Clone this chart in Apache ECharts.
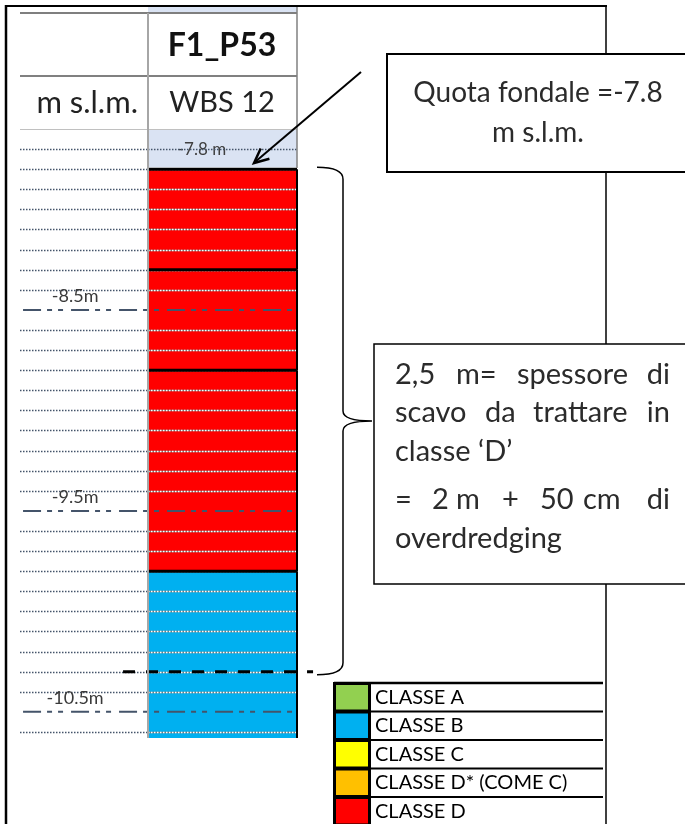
<!DOCTYPE html>
<html><head><meta charset="utf-8">
<script src="https://cdn.jsdelivr.net/npm/echarts@6/dist/echarts.min.js"></script>
<style>html,body{margin:0;padding:0;background:#fff}#c{width:685px;height:824px}</style>
</head><body><div id="c"></div>
<script>
// ---------- data ----------
const classNames = ['CLASSE A', 'CLASSE B', 'CLASSE C', 'CLASSE D* (COME C)', 'CLASSE D'];
const layerTop = [-7.8, -8.3, -8.8, -9.8];
const layerBottom = [-8.3, -8.8, -9.8, -10.63];
const layerClass = ['CLASSE D', 'CLASSE D', 'CLASSE D', 'CLASSE B'];
const waterTop = -7.6;
const seabed = -7.8;
const seabedLabel = '-7.8 m';
const dredgeBottom = -10.3;
const dottedLevels = [-7.7, -7.8, -7.9, -8.0, -8.1, -8.2, -8.3, -8.4, -8.6, -8.7, -8.8, -8.9, -9.0, -9.1, -9.2, -9.3, -9.4, -9.6, -9.7, -9.8, -9.9, -10.0, -10.1, -10.2, -10.3, -10.4, -10.6];
const dashLevels = [-8.5, -9.5, -10.5];
const dashLabels = ['-8.5m', '-9.5m', '-10.5m'];
const stationName = 'F1_P53';
const unitLabel = 'm s.l.m.';
const wbsLabel = 'WBS 12';
const note1Lines = ['Quota fondale =-7.8', 'm s.l.m.'];

// ---------- styles ----------
const classColors = {'CLASSE A': '#92d050', 'CLASSE B': '#00b0f0', 'CLASSE C': '#ffff00', 'CLASSE D* (COME C)': '#ffc000', 'CLASSE D': '#ff0000'};
const FONT = 'Lato';
const COL_LEFT = 0.462;
const NAVY = '#44546a';

const chart = echarts.init(document.getElementById('c'), null, {renderer: 'canvas'});

function layerSeries(name) {
  const data = [];
  layerTop.forEach((t, i) => { if (layerClass[i] === name) data.push([layerTop[i], layerBottom[i]]); });
  return {
    type: 'custom', name: name, z: 2, itemStyle: {color: classColors[name]},
    data: data,
    renderItem: function (params, api) {
      const p0 = api.coord([COL_LEFT, api.value(0)]);
      const p1 = api.coord([1, api.value(1)]);
      return {type: 'rect', shape: {x: p0[0], y: p0[1], width: p1[0] - p0[0], height: p1[1] - p0[1]},
        style: {fill: api.visual('color')}};
    }
  };
}

const series = classNames.map(layerSeries);

// water / seabed cell
series.push({
  type: 'custom', name: 'water', z: 2, data: [[waterTop, seabed]],
  renderItem: function (params, api) {
    const p0 = api.coord([COL_LEFT, api.value(0)]);
    const p1 = api.coord([1, api.value(1)]);
    const tx = api.coord([0.657, api.value(1)]);
    return {type: 'group', children: [
      {type: 'rect', shape: {x: p0[0], y: p0[1], width: p1[0] - p0[0], height: p1[1] - p0[1] - 2}, style: {fill: '#dae3f3'}},
      {type: 'text', z2: 5, style: {text: seabedLabel, x: tx[0], y: tx[1] - 20, align: 'center', verticalAlign: 'middle', fill: '#404040', font: '17px ' + FONT}}
    ]};
  }
});

// dotted grid lines
series.push({
  type: 'custom', name: 'grid01', z: 3, data: dottedLevels.map(v => [v]),
  renderItem: function (params, api) {
    const v = api.value(0);
    const a = api.coord([0, v]), b = api.coord([COL_LEFT, v]), c = api.coord([1, v]);
    const y = Math.round(a[1]) + 0.5;
    const kids = [{type: 'line', shape: {x1: a[0], y1: y, x2: b[0], y2: y}, style: {stroke: NAVY, lineWidth: 1.5, lineDash: [1.5, 1.5]}}];
    if (v <= seabed) {
      kids.push({type: 'line', shape: {x1: b[0], y1: y, x2: c[0], y2: y}, style: {stroke: '#7a7a7a', lineWidth: 1.5}});
      kids.push({type: 'line', shape: {x1: b[0], y1: y, x2: c[0], y2: y}, style: {stroke: '#ffffff', lineWidth: 1.5, lineDash: [1.5, 1.5]}});
    } else {
      kids.push({type: 'line', shape: {x1: b[0], y1: y, x2: c[0], y2: y}, style: {stroke: NAVY, lineWidth: 1.5, lineDash: [1.5, 1.5]}});
    }
    return {type: 'group', children: kids};
  }
});

// dash-dot half-metre lines with labels
series.push({
  type: 'custom', name: 'grid05', z: 4, data: dashLevels.map(v => [v]),
  renderItem: function (params, api) {
    const v = api.value(0);
    const a = api.coord([0.011, v]), c = api.coord([1, v]), t = api.coord([0.199, v]);
    return {type: 'group', children: [
      {type: 'line', shape: {x1: a[0], y1: a[1], x2: c[0], y2: c[1]}, style: {stroke: NAVY, lineWidth: 2, lineDash: [18, 6, 5, 6, 5, 8]}},
      {type: 'text', style: {text: dashLabels[params.dataIndex], x: t[0], y: t[1] - 14, align: 'center', verticalAlign: 'middle', fill: '#3a3a3a', font: '18px ' + FONT}}
    ]};
  }
});

// layer borders (black)
series.push({
  type: 'custom', name: 'borders', z: 5, data: layerTop.map((t, i) => [layerTop[i], layerBottom[i]]),
  renderItem: function (params, api) {
    const p0 = api.coord([COL_LEFT, api.value(0)]);
    const p1 = api.coord([1, api.value(1)]);
    return {type: 'group', children: [
      {type: 'line', shape: {x1: p0[0], y1: p0[1], x2: p1[0], y2: p0[1]}, style: {stroke: '#000', lineWidth: 3}},
      {type: 'line', shape: {x1: p1[0], y1: p0[1], x2: p1[0], y2: p1[1]}, style: {stroke: '#000', lineWidth: 2}}
    ]};
  }
});

// dredging depth: dashed line + brace
series.push({
  type: 'custom', name: 'dredge', z: 6, clip: false, data: [[seabed, dredgeBottom]],
  renderItem: function (params, api) {
    const top = api.coord([1, api.value(0)]);
    const bot = api.coord([1, api.value(1)]);
    const d0 = api.coord([0.372, api.value(1)]);
    const d1 = api.coord([1.058, api.value(1)]);
    const yTop = top[1] - 2, yBot = bot[1] + 3, yMid = (yTop + yBot) / 2;
    const x0 = 317, x1 = 343, xt = 372;
    const p = `M${x0},${yTop} Q${x1},${yTop} ${x1},${yTop + 12} L${x1},${yMid - 10} Q${x1},${yMid} ${xt},${yMid} Q${x1},${yMid} ${x1},${yMid + 10} L${x1},${yBot - 12} Q${x1},${yBot} ${x0},${yBot}`;
    return {type: 'group', children: [
      {type: 'line', shape: {x1: d0[0], y1: d0[1], x2: d1[0], y2: d1[1]}, style: {stroke: '#000', lineWidth: 3, lineDash: [12, 11]}},
      {type: 'path', shape: {pathData: p}, style: {stroke: '#000', lineWidth: 1.5, fill: null}}
    ]};
  }
});

const option = {
  animation: false,
  backgroundColor: '#fff',
  grid: {left: 20, right: 388, top: 129, bottom: 86},
  xAxis: {type: 'value', min: 0, max: 1, show: false},
  yAxis: {type: 'value', min: -10.63, max: -7.6, show: false},
  legend: {
    data: classNames, orient: 'vertical', left: 334, top: 683, height: 400, padding: 0,
    itemWidth: 35, itemHeight: 26.5, itemGap: 0, icon: 'rect', selectedMode: false,
    itemStyle: {borderColor: '#000', borderWidth: 2},
    textStyle: {fontFamily: FONT, fontSize: 20, lineHeight: 24, color: '#000'}
  },
  series: series
};
chart.setOption(option);

// ---------- annotations ----------
function line(x1, y1, x2, y2, stroke, w, extra) {
  return {type: 'line', z: 100, shape: {x1, y1, x2, y2}, style: Object.assign({stroke: stroke, lineWidth: w}, extra || {})};
}
function txt(text, x, y, font, align, fill) {
  return {type: 'text', z: 110, style: {text: text, x: x, y: y, font: font, align: align || 'left', verticalAlign: 'middle', fill: fill || '#2b2b2b'}};
}

const g = [];
// frame
g.push(line(6, 5, 6, 824, '#000', 2.5));
g.push(line(5, 6, 607, 6, '#000', 2));
g.push(line(606, 6, 606, 824, '#000', 1.5));
// header table
g.push({type: 'rect', z: 99, shape: {x: 148, y: 7, width: 149, height: 6}, style: {fill: '#dae3f3'}});
g.push(line(20, 13, 297, 13, '#7f7f7f', 2));
g.push(line(20, 76, 297, 76, '#808080', 2));
g.push(line(20, 129.5, 297, 129.5, '#c0c0c0', 1));
g.push(line(148, 13, 148, 738, '#a6a6a6', 2));
g.push(line(297, 7, 297, 168, '#808080', 1.5));
g.push(txt(stationName, 222, 46, 'bold 32px ' + FONT, 'center', '#111'));
g.push(txt(wbsLabel, 222, 103, '29px ' + FONT, 'center', '#222'));
g.push(txt(unitLabel, 138, 103, '31px ' + FONT, 'right', '#222'));
// note box 1
g.push({type: 'rect', z: 101, shape: {x: 387, y: 54, width: 320, height: 118}, style: {fill: '#fff', stroke: '#000', lineWidth: 2}});
g.push(txt(note1Lines[0], 538, 93, '28px ' + FONT, 'center'));
g.push(txt(note1Lines[1], 538, 133, '28px ' + FONT, 'center'));
// arrow
g.push(line(361, 72, 255, 162, '#000', 2));
g.push({type: 'polyline', z: 100, shape: {points: [[269.4, 158.8], [254, 163], [260.7, 148.5]]}, style: {stroke: '#000', lineWidth: 2.5, fill: null}});
// note box 2
g.push({type: 'rect', z: 101, shape: {x: 374, y: 344, width: 320, height: 240}, style: {fill: '#fff', stroke: '#000', lineWidth: 1.5}});
const F2 = '29px ' + FONT;
const words = [
  [['2,5', 395], ['m=', 456], ['spessore', 517], ['di', 670, 'right']],
  [['scavo', 395], ['da', 485], ['trattare', 533], ['in', 670, 'right']],
  [['classe \u2018D\u2019', 395]],
  [['=', 395], ['2', 432], ['m', 456], ['+', 502], ['50', 540], ['cm', 583], ['di', 670, 'right']],
  [['overdredging', 395]]
];
const lineY = [375, 413, 452, 500, 539];
words.forEach((ws, i) => ws.forEach(w => g.push(txt(w[0], w[1], lineY[i], F2, w[2] || 'left'))));
// legend table lines
for (let i = 0; i < 5; i++) g.push(line(334, 683 + i * 28.5, 603, 683 + i * 28.5, '#000', i === 0 ? 2.5 : 2));
g.push(line(334, 682, 334, 824, '#000', 2));
g.push(line(369, 682, 369, 824, '#000', 2));

chart.setOption({graphic: g});
</script>
</body></html>
